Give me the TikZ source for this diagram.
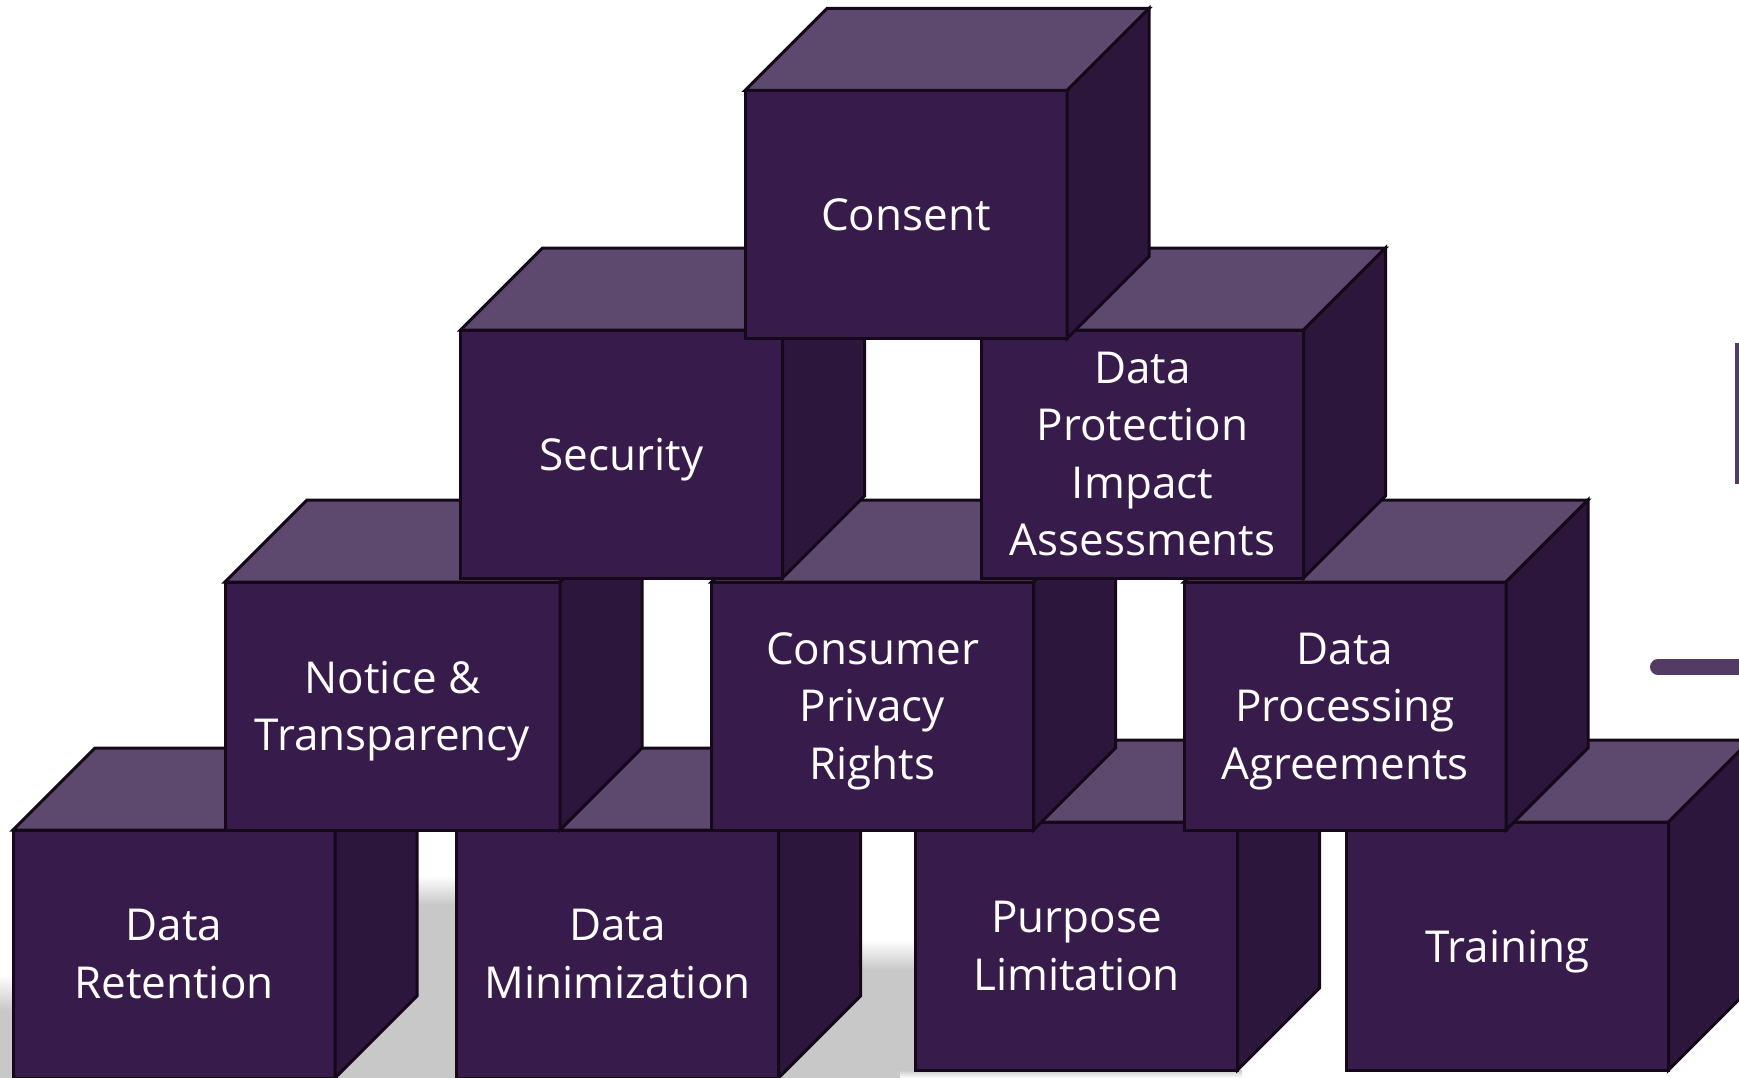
\documentclass[tikz,border=0pt]{standalone}
\usepackage{fontspec}
\setmainfont{Open Sans}
\definecolor{frente}{HTML}{371B4B}
\definecolor{superior}{HTML}{5D496E}
\definecolor{costado}{HTML}{2C163C}
\definecolor{borde}{HTML}{140819}
\definecolor{gris}{HTML}{C8C8C8}
\definecolor{marca}{HTML}{533B63}

\begin{document}
\begin{tikzpicture}[
        x=1pt, y=-1pt,
        every node/.style={font=\fontsize{44}{57.5}\selectfont, text=white},
        bloque/.style={draw=borde, line width=3pt, fill=frente, align=center, text depth=0pt, inner sep=0pt, outer sep=0pt, minimum width=322pt, minimum height=248pt},
        tapa/.style={draw=borde, line width=3pt, fill=superior},
        lado/.style={draw=borde, line width=3pt, fill=costado},
        sombra/.style={fill=gris}
    ]
    \useasboundingbox (0,0) rectangle (1739,1078);
    \clip (0,0) rectangle (1739,1078);

    % Sombras
    \shade[top color=white, bottom color=gris] (0,975) rectangle (15,1010);
    \fill[sombra] (0,1010) rectangle (15,1078);
    \shade[top color=white, bottom color=gris] (330,875) rectangle (460,905);
    \fill[sombra] (330,905) rectangle (460,1078);
    \shade[top color=white, bottom color=gris] (775,940) rectangle (918,970);
    \fill[sombra] (775,970) rectangle (918,1078);
    \shade[top color=gris, bottom color=white] (900,1070) rectangle (1242,1078);

    % Fila inferior
    \node[bloque] (retencion) at (174,954) {Data\\Retention};
    \node[bloque] (minimizacion) at (617.5,954) {Data\\Minimization};
    \node[bloque] (finalidad) at (1076.5,946) {Purpose\\Limitation};
    \node[bloque] (formacion) at (1507.5,946) {Training};
    \draw[tapa] (retencion.north west) -- ++(82,-82) -- ([shift={(82,-82)}]retencion.north east) -- (retencion.north east) -- cycle;
    \draw[lado] (retencion.north east) -- ++(82,-82) -- ([shift={(82,-82)}]retencion.south east) -- (retencion.south east) -- cycle;
    \draw[tapa] (minimizacion.north west) -- ++(82,-82) -- ([shift={(82,-82)}]minimizacion.north east) -- (minimizacion.north east) -- cycle;
    \draw[lado] (minimizacion.north east) -- ++(82,-82) -- ([shift={(82,-82)}]minimizacion.south east) -- (minimizacion.south east) -- cycle;
    \draw[tapa] (finalidad.north west) -- ++(82,-82) -- ([shift={(82,-82)}]finalidad.north east) -- (finalidad.north east) -- cycle;
    \draw[lado] (finalidad.north east) -- ++(82,-82) -- ([shift={(82,-82)}]finalidad.south east) -- (finalidad.south east) -- cycle;
    \draw[tapa] (formacion.north west) -- ++(82,-82) -- ([shift={(82,-82)}]formacion.north east) -- (formacion.north east) -- cycle;
    \draw[lado] (formacion.north east) -- ++(82,-82) -- ([shift={(82,-82)}]formacion.south east) -- (formacion.south east) -- cycle;

    % Segunda fila
    \node[bloque, minimum width=335pt] (aviso) at (392.5,706) {Notice \&\\Transparency};
    \node[bloque] (derechos) at (872.5,706) {Consumer\\Privacy\\Rights};
    \node[bloque] (acuerdos) at (1345,706) {Data\\Processing\\Agreements};
    \draw[tapa] (aviso.north west) -- ++(82,-82) -- ([shift={(82,-82)}]aviso.north east) -- (aviso.north east) -- cycle;
    \draw[lado] (aviso.north east) -- ++(82,-82) -- ([shift={(82,-82)}]aviso.south east) -- (aviso.south east) -- cycle;
    \draw[tapa] (derechos.north west) -- ++(82,-82) -- ([shift={(82,-82)}]derechos.north east) -- (derechos.north east) -- cycle;
    \draw[lado] (derechos.north east) -- ++(82,-82) -- ([shift={(82,-82)}]derechos.south east) -- (derechos.south east) -- cycle;
    \draw[tapa] (acuerdos.north west) -- ++(82,-82) -- ([shift={(82,-82)}]acuerdos.north east) -- (acuerdos.north east) -- cycle;
    \draw[lado] (acuerdos.north east) -- ++(82,-82) -- ([shift={(82,-82)}]acuerdos.south east) -- (acuerdos.south east) -- cycle;

    % Tercera fila
    \node[bloque] (seguridad) at (621.5,454) {Security};
    \node[bloque] (evaluacion) at (1142.5,454) {Data\\Protection\\Impact\\Assessments};
    \draw[tapa] (seguridad.north west) -- ++(82,-82) -- ([shift={(82,-82)}]seguridad.north east) -- (seguridad.north east) -- cycle;
    \draw[lado] (seguridad.north east) -- ++(82,-82) -- ([shift={(82,-82)}]seguridad.south east) -- (seguridad.south east) -- cycle;
    \draw[tapa] (evaluacion.north west) -- ++(82,-82) -- ([shift={(82,-82)}]evaluacion.north east) -- (evaluacion.north east) -- cycle;
    \draw[lado] (evaluacion.north east) -- ++(82,-82) -- ([shift={(82,-82)}]evaluacion.south east) -- (evaluacion.south east) -- cycle;

    % Cima
    \node[bloque] (consentimiento) at (906,214.5) {Consent};
    \draw[tapa] (consentimiento.north west) -- ++(82,-82) -- ([shift={(82,-82)}]consentimiento.north east) -- (consentimiento.north east) -- cycle;
    \draw[lado] (consentimiento.north east) -- ++(82,-82) -- ([shift={(82,-82)}]consentimiento.south east) -- (consentimiento.south east) -- cycle;

    % Marcas al borde
    \draw[draw=marca, line width=5pt] (1737,345) rectangle (1775,481);
    \draw[draw=marca, line width=16pt, line cap=round] (1658,667) -- (1765,667);
\end{tikzpicture}
\end{document}
